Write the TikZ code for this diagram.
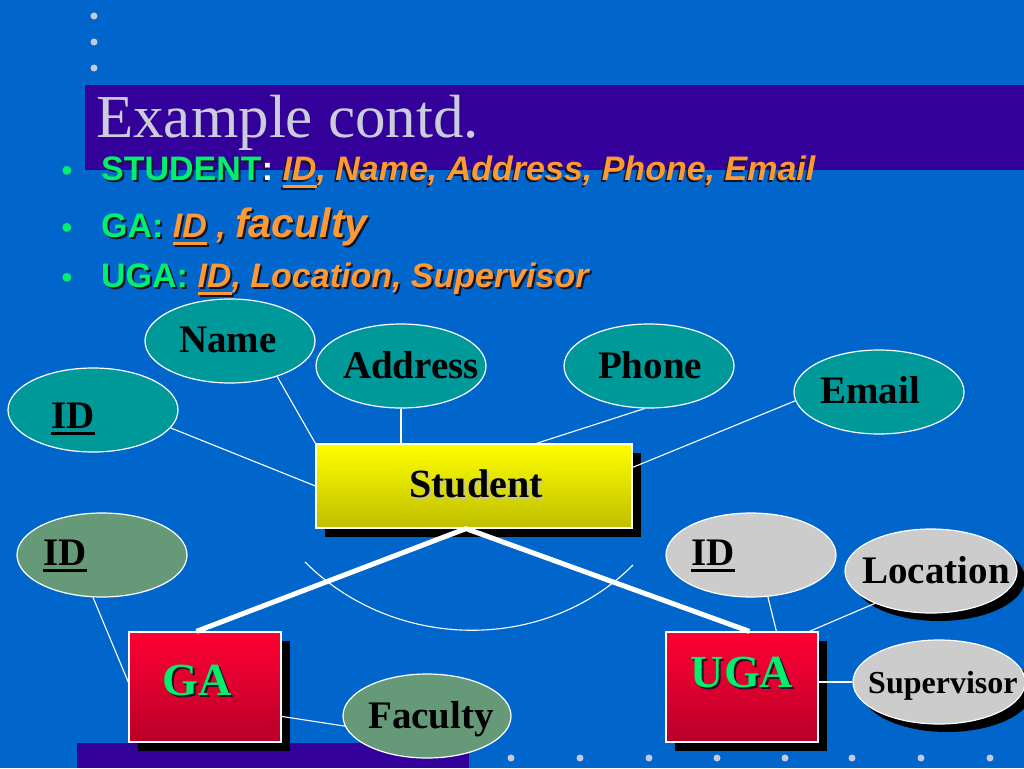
\documentclass[tikz,border=0pt]{standalone}
\usepackage{fontspec}
\setmainfont{Liberation Serif}
\newfontfamily\sansf{Liberation Sans}
\usetikzlibrary{shapes.geometric,shadows,calc}
\definecolor{bgblue}{RGB}{0,102,204}
\definecolor{barpurple}{RGB}{51,0,153}
\definecolor{titlec}{RGB}{204,204,220}
\definecolor{dotc}{RGB}{200,200,215}
\definecolor{grn}{RGB}{0,240,110}
\definecolor{org}{RGB}{255,153,51}
\definecolor{tealc}{RGB}{0,153,153}
\definecolor{sagec}{RGB}{102,153,119}
\definecolor{grayc}{RGB}{204,204,204}
\definecolor{redtop}{RGB}{255,0,51}
\definecolor{redbot}{RGB}{185,0,40}
\definecolor{yeltop}{RGB}{255,255,0}
\definecolor{yelbot}{RGB}{190,190,0}
\definecolor{shdc}{RGB}{20,20,40}
\definecolor{stushd}{RGB}{200,200,130}
\newcommand\cg{\color{grn}}
\newcommand\co{\color{org}}
\newcommand\cw{\color{white}}
\newcommand\shtxt[2][shdc]{\makebox[0pt][l]{\kern2pt\raisebox{-2pt}{\def\cg{}\def\co{}\def\cw{}\color{#1}#2}}#2}
\newcommand\myul[3]{\setbox0\hbox{#3}\rlap{\rule[-#1]{\wd0}{#2}}\box0}
\tikzset{
  attr/.style={ellipse, draw=white, line width=1.2pt, minimum width=170pt, minimum height=84pt, inner sep=0pt},
  shd/.style={drop shadow={shadow xshift=8pt, shadow yshift=-8pt, fill=black, opacity=1}},
  entity/.style={rectangle, draw=white, line width=1.2pt, inner sep=0pt,
    drop shadow={shadow xshift=9pt, shadow yshift=-9pt, fill=black, opacity=1}},
  lbl/.style={anchor=base, inner sep=0pt, font=\bfseries\fontsize{39}{40}\selectfont},
  conn/.style={draw=white, line width=1.1pt},
  isa/.style={draw=white, line width=5pt, line join=round},
  bul/.style={anchor=base west, inner sep=0pt, font=\sansf\bfseries\fontsize{34}{36}\selectfont},
  bdot/.style={anchor=base, inner sep=0pt, text=grn, font=\sansf\fontsize{32}{34}\selectfont},
}
\begin{document}
\begin{tikzpicture}[x=1pt,y=-1pt]
\useasboundingbox (0,0) rectangle (1024,768);
\clip (0,0) rectangle (1024,768);
\fill[bgblue] (0,0) rectangle (1024,768);
\fill[barpurple] (85,85) rectangle (1024,170);
\fill[barpurple] (77,743) rectangle (469,768);
\foreach \yy in {16,42,68} \fill[dotc] (94,\yy) circle (3.5pt);
\foreach \xx in {511,580,649,717,785,852,921,990} \fill[dotc] (\xx,758) circle (3.5pt);
\node[anchor=base west, inner sep=0pt, text=titlec, font=\fontsize{61}{64}\selectfont] (title) at (96,137) {Example contd.};
\node[bdot] (b1) at (67,181) {•};
\node[bdot] (b2) at (67,238) {•};
\node[bdot] (b3) at (67,288) {•};
\node[bul] (l1) at (101,180) {\shtxt{\cg STUDENT\cw:\ \co\itshape\myul{8pt}{3pt}{ID}, Name, Address, Phone, Email}};
\node[bul] (l2) at (101,237) {\shtxt{\cg GA: \co\itshape\myul{8pt}{3pt}{ID}\ , {\fontsize{41}{42}\selectfont faculty}}};
\node[bul] (l3) at (101,287) {\shtxt{\cg UGA: \co\itshape\myul{8pt}{3pt}{ID}, Location, Supervisor}};
% attribute ellipses
\node[attr, fill=tealc] (nameE) at (230,341) {};
\node[attr, fill=tealc] (addrE) at (401,366) {};
\node[attr, fill=tealc] (sidE) at (93,410) {};
\node[attr, fill=tealc] (phoneE) at (649,366) {};
\node[attr, fill=tealc] (emailE) at (879,392) {};
\node[attr, fill=sagec] (gaidE) at (102,555) {};
\node[attr, fill=sagec, minimum width=168pt] (facE) at (427,716) {};
\node[attr, fill=grayc] (ugaidE) at (751,555) {};
\node[attr, fill=grayc, shd, minimum width=172pt] (locE) at (931,571) {};
\node[attr, fill=grayc, shd, minimum width=172pt] (supE) at (939,682) {};
% entity boxes
\node[entity, top color=yeltop, bottom color=yelbot, minimum width=316pt, minimum height=84pt] (student) at (474,486) {};
\node[entity, top color=redtop, bottom color=redbot, minimum width=152pt, minimum height=110pt] (ga) at (205,687) {};
\node[entity, top color=redtop, bottom color=redbot, minimum width=152pt, minimum height=110pt] (uga) at (742,687) {};
% labels
\node[lbl] (nameT) at (228,352) {Name};
\node[lbl] (addrT) at (411,378) {Address};
\node[lbl] (sidT) at (73,428) {\myul{7pt}{3pt}{ID}};
\node[lbl] (phoneT) at (650,378) {Phone};
\node[lbl] (emailT) at (870,403) {Email};
\node[lbl, font=\bfseries\fontsize{40}{42}\selectfont] (studentT) at (476,497) {\shtxt[stushd]{Student}};
\node[lbl] (gaidT) at (65,565) {\myul{7pt}{3pt}{ID}};
\node[lbl] (ugaidT) at (713,565) {\myul{7pt}{3pt}{ID}};
\node[lbl] (locT) at (936,583) {Location};
\node[lbl, anchor=base west, font=\bfseries\fontsize{32}{34}\selectfont] (supT) at (868,693) {Supervisor};
\node[lbl, font=\bfseries\fontsize{46}{48}\selectfont] (gaT) at (197,695) {\shtxt{\cg GA}};
\node[lbl, font=\bfseries\fontsize{46}{48}\selectfont] (ugaT) at (742,687) {\shtxt{\cg UGA}};
\node[lbl] (facT) at (431,728) {Faculty};
% connectors
\draw[conn] (sidE.-13) -- (student.west);
\draw[conn] (nameE.-37) -- (student.north west);
\draw[conn] (addrE.south) -- (addrE.south |- student.north);
\draw[conn] (phoneE.-96) -- ($(student.north west)+(221,0)$);
\draw[conn] (emailE.186) -- ($(student.north east)+(0,24)$);
\draw[conn] (gaidE.-102) -- ($(ga.north west)+(0,51)$);
\draw[conn] ($(ga.north east)+(0,85)$) -- (facE.187);
\draw[conn] (ugaidE.-68) -- ($(uga.north west)+(111,0)$);
\draw[conn] (locE.210) -- ($(uga.north west)+(144,0)$);
\draw[conn] (supE.west) -- (supE.west -| uga.east);
% disjointness arc
\draw[conn] (305,562) .. controls (394,651) and (544,654) .. (633,565);
% ISA lines
\coordinate (apex) at ($(student.south)+(-8,0)$);
\draw[isa] ($(ga.north west)+(68,0)$) -- (apex) -- ($(uga.north west)+(84,0)$);
\end{tikzpicture}
\end{document}
